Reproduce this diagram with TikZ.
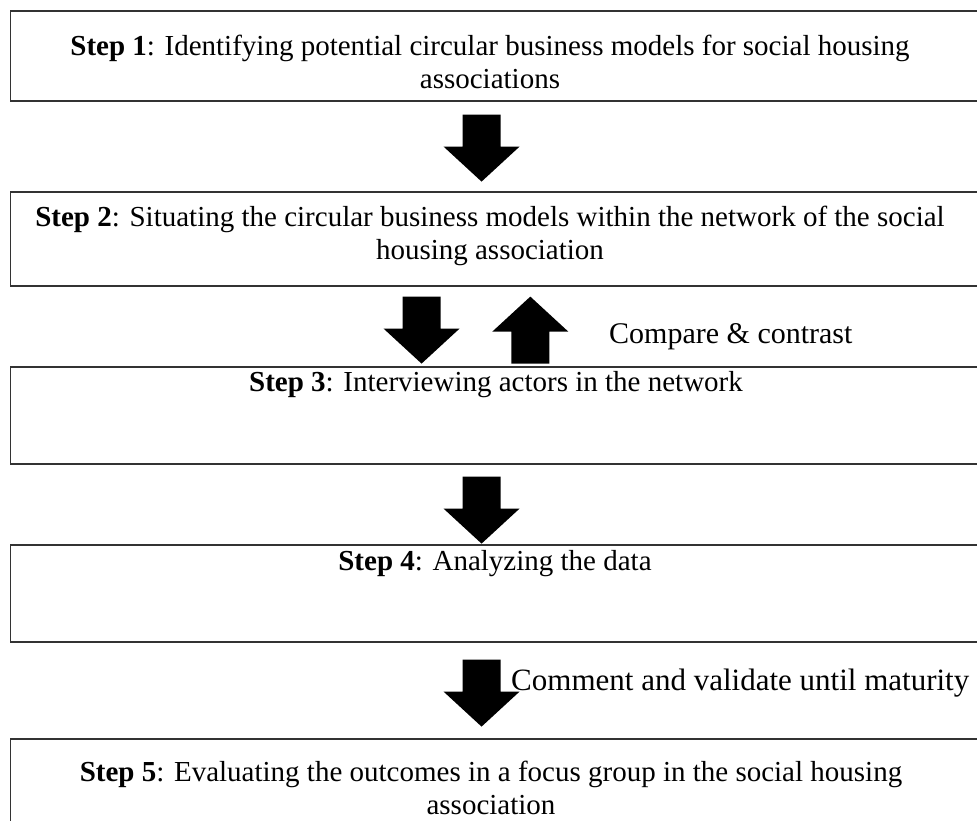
\documentclass[tikz,border=0pt]{standalone}
\usepackage{fontspec}
\setmainfont{Liberation Serif}
\usetikzlibrary{calc}
\tikzset{
  stepbox/.style={draw=black!80, line width=1.6pt, fill=white, minimum width=968.5pt, minimum height=#1, anchor=north west, inner sep=0pt},
  steptext/.style={align=center, inner sep=0pt, font=\fontsize{29}{33}\selectfont},
  sidetext/.style={anchor=west, inner sep=0pt, font=\fontsize{30}{33}\selectfont},
  darr/.pic={\fill[black] (-19,0) -- (19,0) -- (19,-32) -- (38,-32) -- (0,-67) -- (-38,-32) -- (-19,-32) -- cycle;},
  uarr/.pic={\fill[black] (-19,0) -- (19,0) -- (19,32) -- (38,32) -- (0,67) -- (-38,32) -- (-19,32) -- cycle;}
}
\begin{document}
\begin{tikzpicture}[x=1pt,y=1pt]
\useasboundingbox (0,0) rectangle (977,-820);
\node[stepbox=90pt] (b1) at (9.5,-10) {};
\node[stepbox=94pt] (b2) at (9.5,-191) {};
\node[stepbox=97pt] (b3) at (9.5,-366) {};
\node[stepbox=97pt] (b4) at (9.5,-544) {};
\node[stepbox=95pt] (b5) at (9.5,-738) {};
\node[steptext] (t1) at (490,-61.5) {\textbf{Step 1}: Identifying potential circular business models for social housing\\associations};
\node[steptext] (t2) at (490,-236) {\textbf{Step 2}: Situating the circular business models within the network of the social\\housing association};
\node[steptext] (t3) at (496,-385) {\textbf{Step 3}: Interviewing actors in the network};
\node[steptext] (t4) at (495,-564) {\textbf{Step 4}: Analyzing the data};
\node[steptext] (t5) at (491,-788) {\textbf{Step 5}: Evaluating the outcomes in a focus group in the social housing\\association};
\pic at ([shift={(-13,-13)}]b1.south) {darr};
\pic at ([shift={(-73,-10)}]b2.south) {darr};
\pic at ([shift={(35.75,-77)}]b2.south) {uarr};
\pic at ([shift={(-13,-12)}]b3.south) {darr};
\pic at ([shift={(-13,-17)}]b4.south) {darr};
\node[sidetext] (c1) at (609,-337) {Compare \& contrast};
\node[sidetext, font=\fontsize{31}{33}\selectfont] (c2) at (511,-683) {Comment and validate until maturity};
\end{tikzpicture}
\end{document}
